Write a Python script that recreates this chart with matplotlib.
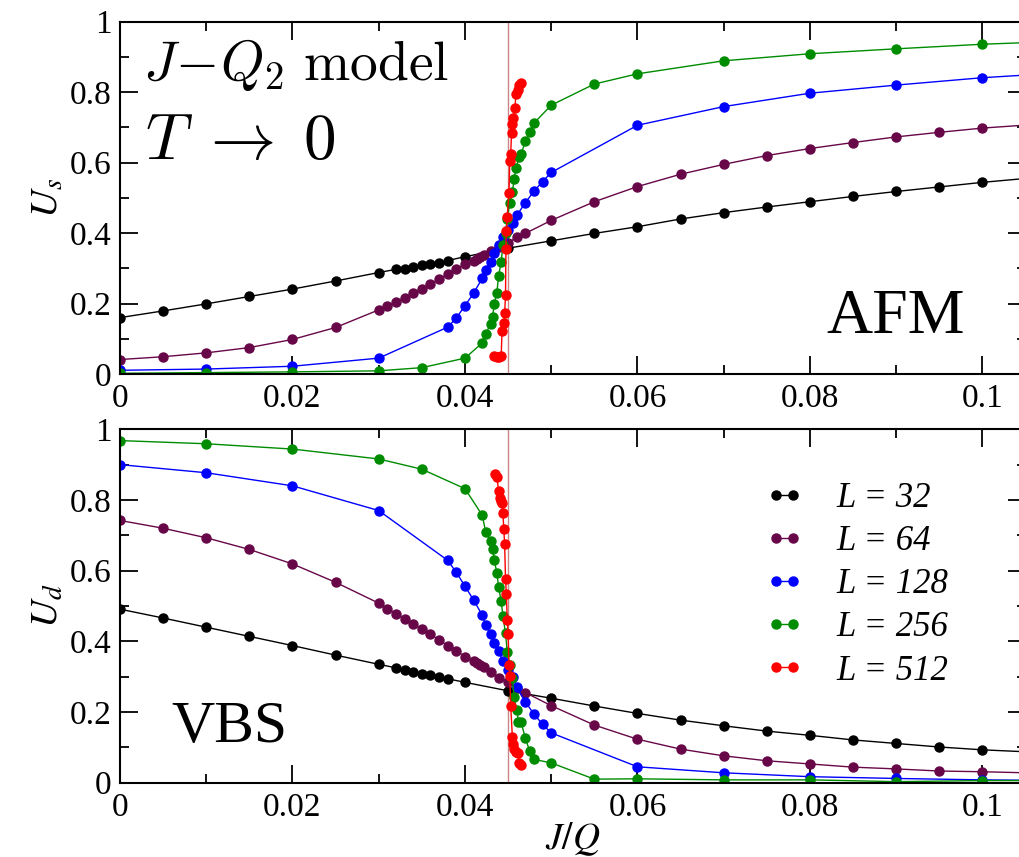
import matplotlib
matplotlib.use("Agg")
import matplotlib.pyplot as plt
from matplotlib.ticker import MultipleLocator

plt.rcParams["font.family"] = ["Liberation Serif", "DejaVu Serif"]
plt.rcParams["mathtext.fontset"] = "stix"

# J/Q values and Binder cumulants
x_32 = [0, 0.005, 0.01, 0.015, 0.02, 0.025, 0.03, 0.032, 0.033, 0.034, 0.035, 0.036,
        0.037, 0.038, 0.04, 0.045, 0.05, 0.055, 0.06, 0.065, 0.07, 0.075, 0.08, 0.085,
        0.09, 0.095, 0.1, 0.11]
us_32 = [0.160, 0.179, 0.199, 0.220, 0.241, 0.264, 0.288, 0.297, 0.299, 0.303, 0.308, 0.312,
         0.316, 0.322, 0.333, 0.357, 0.378, 0.399, 0.418, 0.440, 0.458, 0.474, 0.489, 0.504,
         0.518, 0.531, 0.544, 0.566]
ud_32 = [0.491, 0.466, 0.440, 0.414, 0.388, 0.361, 0.335, 0.325, 0.320, 0.314, 0.308, 0.304,
         0.300, 0.294, 0.284, 0.260, 0.239, 0.217, 0.196, 0.177, 0.161, 0.146, 0.134, 0.121,
         0.111, 0.101, 0.093, 0.082]

x_64 = [0, 0.005, 0.01, 0.015, 0.02, 0.025, 0.03, 0.031, 0.032, 0.033, 0.034, 0.035, 0.036,
        0.037, 0.038, 0.039, 0.04, 0.041, 0.0414, 0.0418, 0.0422, 0.043, 0.044, 0.045, 0.046,
        0.047, 0.05, 0.055, 0.06, 0.065, 0.07, 0.075, 0.08, 0.085, 0.09, 0.095, 0.1, 0.11]
us_64 = [0.041, 0.049, 0.060, 0.075, 0.098, 0.132, 0.182, 0.193, 0.204, 0.217, 0.229, 0.242,
         0.255, 0.269, 0.283, 0.297, 0.311, 0.322, 0.327, 0.333, 0.338, 0.349, 0.360, 0.372,
         0.388, 0.399, 0.436, 0.489, 0.532, 0.567, 0.595, 0.620, 0.640, 0.657, 0.673, 0.686,
         0.698, 0.715]
ud_64 = [0.742, 0.720, 0.693, 0.660, 0.619, 0.567, 0.508, 0.492, 0.478, 0.463, 0.448, 0.434,
         0.420, 0.404, 0.388, 0.373, 0.357, 0.345, 0.340, 0.333, 0.328, 0.314, 0.297, 0.284,
         0.268, 0.255, 0.218, 0.163, 0.123, 0.095, 0.076, 0.062, 0.053, 0.044, 0.039, 0.033,
         0.031, 0.025]

x_128 = [0, 0.01, 0.02, 0.03, 0.038, 0.039, 0.04, 0.041, 0.042, 0.0424, 0.043, 0.0434,
         0.0439, 0.0444, 0.045, 0.0456, 0.046, 0.047, 0.048, 0.049, 0.05, 0.06, 0.07, 0.08,
         0.09, 0.1, 0.11]
us_128 = [0.0105, 0.014, 0.022, 0.045, 0.133, 0.159, 0.194, 0.229, 0.272, 0.295, 0.319, 0.343,
          0.366, 0.388, 0.408, 0.428, 0.450, 0.486, 0.519, 0.546, 0.572, 0.706, 0.759, 0.797,
          0.820, 0.841, 0.856]
ud_128 = [0.900, 0.877, 0.840, 0.770, 0.629, 0.595, 0.556, 0.517, 0.474, 0.446, 0.421, 0.396,
          0.373, 0.343, 0.319, 0.300, 0.270, 0.229, 0.194, 0.165, 0.141, 0.045, 0.028, 0.017,
          0.012, 0.008, 0.006]

xs_256 = [0, 0.01, 0.02, 0.03, 0.035, 0.04, 0.042, 0.0424, 0.043, 0.0432, 0.0434, 0.0437,
          0.0439, 0.0442, 0.0444, 0.0447, 0.0449, 0.0452, 0.0455, 0.0457, 0.0459, 0.0463,
          0.0465, 0.047, 0.0475, 0.048, 0.05, 0.055, 0.06, 0.07, 0.08, 0.09, 0.1, 0.11]
us_256 = [0.002, 0.004, 0.006, 0.009, 0.018, 0.045, 0.088, 0.114, 0.143, 0.163, 0.199, 0.231,
          0.279, 0.319, 0.365, 0.401, 0.440, 0.486, 0.516, 0.553, 0.584, 0.615, 0.624, 0.660,
          0.687, 0.712, 0.763, 0.823, 0.852, 0.889, 0.909, 0.923, 0.936, 0.945]
xd_256 = [0, 0.01, 0.02, 0.03, 0.035, 0.04, 0.042, 0.0424, 0.043, 0.0432, 0.0434, 0.0437,
          0.0439, 0.0442, 0.0444, 0.0447, 0.0449, 0.0452, 0.0455, 0.0457, 0.046, 0.0462,
          0.0465, 0.047, 0.0475, 0.048, 0.05, 0.055, 0.06, 0.07, 0.08, 0.09, 0.1, 0.11]
ud_256 = [0.968, 0.959, 0.944, 0.916, 0.887, 0.832, 0.757, 0.710, 0.684, 0.661, 0.630, 0.593,
          0.553, 0.514, 0.472, 0.423, 0.371, 0.333, 0.295, 0.242, 0.206, 0.173, 0.172, 0.126,
          0.090, 0.066, 0.056, 0.010, 0.011, 0.008, 0.008, 0.003, 0.006, 0.006]

xs_512 = [0.0434, 0.0437, 0.0440, 0.0442, 0.0443, 0.0445, 0.0446, 0.0447, 0.04475, 0.0448,
          0.0449, 0.0451, 0.0452, 0.0453, 0.0454, 0.0455, 0.0456, 0.0458, 0.0459, 0.0461,
          0.0463, 0.0465]
us_512 = [0.052, 0.048, 0.049, 0.051, 0.123, 0.146, 0.172, 0.223, 0.354, 0.406, 0.447, 0.515,
          0.605, 0.625, 0.683, 0.710, 0.728, 0.756, 0.794, 0.806, 0.820, 0.827]
xd_512 = [0.0435, 0.0437, 0.0439, 0.0441, 0.0442, 0.0443, 0.0444, 0.0445, 0.0446, 0.0447,
          0.0448, 0.0449, 0.0450, 0.0451, 0.0452, 0.0453, 0.0455, 0.0456, 0.0457, 0.0459,
          0.0461, 0.0463, 0.0465]
ud_512 = [0.873, 0.864, 0.826, 0.805, 0.798, 0.792, 0.764, 0.718, 0.675, 0.577, 0.534, 0.461,
          0.421, 0.333, 0.303, 0.218, 0.128, 0.110, 0.095, 0.088, 0.085, 0.055, 0.050]

jq_c = 0.04495
labels = ["L = 32", "L = 64", "L = 128", "L = 256", "L = 512"]
colors = ["black", "#670748", "#0000ff", "#008c00", "#ff0000"]

top_series = [(x_32, us_32), (x_64, us_64), (x_128, us_128), (xs_256, us_256), (xs_512, us_512)]
bot_series = [(x_32, ud_32), (x_64, ud_64), (x_128, ud_128), (xd_256, ud_256), (xd_512, ud_512)]

fig = plt.figure(figsize=(10.2, 8.57), dpi=100)
ax1 = fig.add_axes([0.1176, 0.5636, 0.8879, 0.4111])
ax2 = fig.add_axes([0.1176, 0.0867, 0.8879, 0.4124])


def style(ax):
    ax.set_xlim(0, 0.105)
    ax.set_ylim(0, 1)
    ax.xaxis.set_major_locator(MultipleLocator(0.02))
    ax.xaxis.set_minor_locator(MultipleLocator(0.01))
    ax.yaxis.set_major_locator(MultipleLocator(0.2))
    ax.yaxis.set_minor_locator(MultipleLocator(0.1))
    ax.xaxis.set_major_formatter(lambda v, p: f"{v:g}")
    ax.yaxis.set_major_formatter(lambda v, p: f"{v:g}")
    ax.tick_params(which="both", direction="in", top=True, right=True, width=1.3)
    ax.tick_params(which="major", length=13, labelsize=24, pad=6)
    ax.tick_params(axis="x", which="major", pad=7)
    ax.tick_params(which="minor", length=6.5)
    for s in ax.spines.values():
        s.set_linewidth(1.5)
    ax.axvline(jq_c, color="#c98585", lw=1.0, zorder=1)


for ax, series in ((ax1, top_series), (ax2, bot_series)):
    style(ax)
    for (xx, yy), c, lab in zip(series, colors, labels):
        ax.plot(xx, yy, "-o", color=c, lw=1.0, ms=6.5, label=lab)

ax1.set_ylabel("$U_s$", fontsize=28, labelpad=2)
ax2.set_ylabel("$U_d$", fontsize=28, labelpad=2)
ax2.set_xlabel("$J/Q$", fontsize=27, labelpad=-2)

ax1.text(0.026, 0.835, r"$J\!-\!Q_2\ \mathrm{model}$", transform=ax1.transAxes,
         fontsize=40, math_fontfamily="cm")
ax1.text(0.028, 0.61, r"$T\;\rightarrow\;0$", transform=ax1.transAxes, fontsize=47,
         math_fontfamily="cm")
ax1.text(0.78, 0.115, "AFM", transform=ax1.transAxes, fontsize=46)
ax2.text(0.057, 0.115, "VBS", transform=ax2.transAxes, fontsize=43)

ax2.legend(loc="upper left", bbox_to_anchor=(0.713, 0.85), frameon=False,
           prop={"family": "Liberation Serif", "style": "italic", "size": 25},
           numpoints=2, handlelength=1.1, handletextpad=0.95, labelspacing=0.29,
           borderpad=0, borderaxespad=0)

fig.savefig("out.png", dpi=100)
